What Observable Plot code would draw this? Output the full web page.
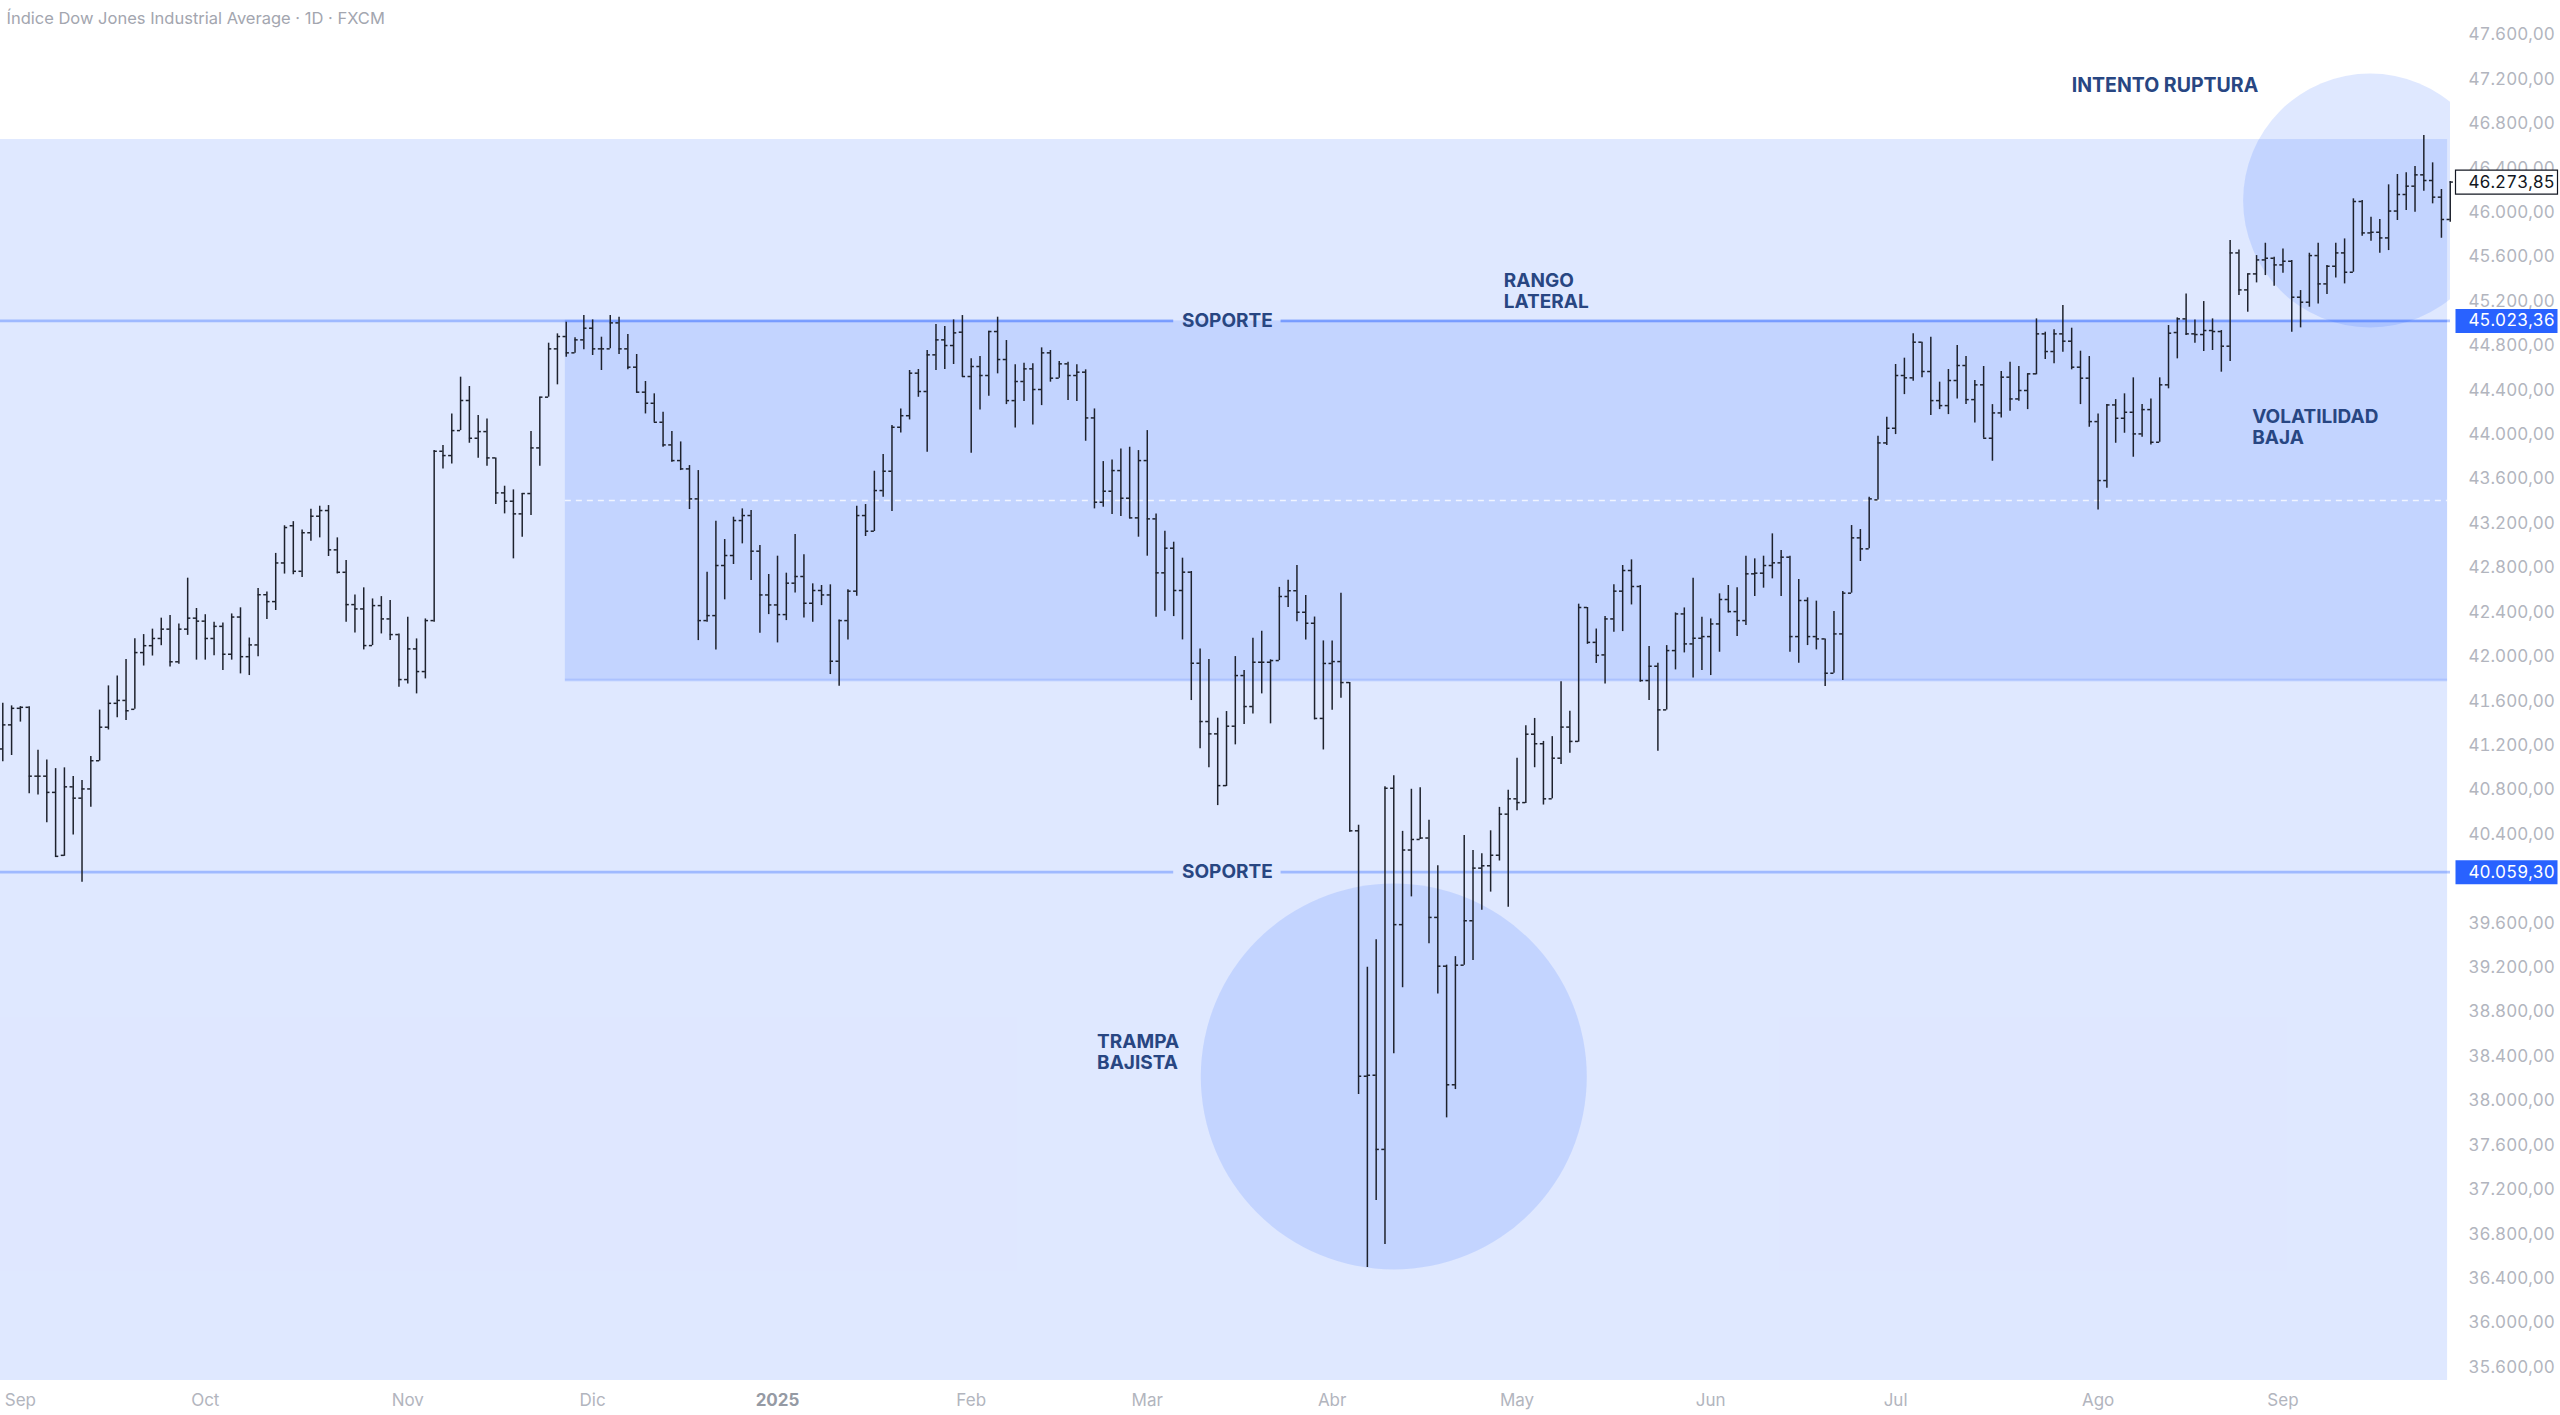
<!DOCTYPE html>
<html><head><meta charset="utf-8">
<script src="https://cdn.jsdelivr.net/npm/d3@7"></script>
<script src="https://cdn.jsdelivr.net/npm/@observablehq/plot@0.6"></script>
<style>html,body{margin:0;padding:0;background:#fff;} #chart svg{display:block;}</style>
</head><body><div id="chart"></div><script>
// Daily OHLC bars (bar index 1..279, late Aug 2024 -> late Sep 2025)
const opens = [
41169,41386,41535,41544,40924,40924,40778,40211,40828,40726,
40809,41063,41365,41580,41606,41526,42037,42099,42164,42248,
41954,42248,42347,42320,42164,42273,42022,42357,42000,42106,
42558,42496,42844,43179,42769,43116,43265,
43316,42962,42760,42469,42430,42100,42460,42340,42199,41794,
42070,41866,42325,43850,43811,44036,44307,43967,44027,43790,
43475,43400,43286,43469,43880,44337,44772,44883,44736,44853,
44958,44772,44772,45006,44772,44607,
44382,44282,44111,43907,43766,43691,43421,42325,42370,42821,
42911,43226,43271,42950,42556,42466,42379,42662,42722,42481,
42596,42556,41959,42325,42590,43271,43130,43496,43670,44066,
44170,44553,44388,44718,44853,44802,
44922,44523,44613,44532,44928,44676,44306,44478,44592,44406,
44736,44508,44637,44532,44562,44150,43391,43490,43676,43427,
43250,43766,43241,42755,42977,42596,42761,41941,41416,41305,
40839,41374,41830,41551,41950,41950,
41965,42542,42594,42400,42301,41444,41939,41956,41767,40432,
38222,38231,37563,40815,39587,40259,40354,40367,39652,39213,
38145,39222,39622,40096,40117,40212,40582,40720,40686,41302,
41216,40720,41086,41366,41237,42443,42129,
42016,42340,42590,42776,42632,41785,41914,41521,42055,42385,
42115,42166,42181,42295,42515,42406,42325,42746,42752,42821,
42845,42896,42181,42506,42181,42160,41851,42205,42572,43070,
42971,43412,43925,44057,44532,44511,44832,44568,44306,44261,
44487,44622,44315,44448,43967,44195,44517,44321,44397,44547,
44907,44748,44907,44841,44607,44508,44117,43586,44267,44147,
44201,44006,44225,43931,44448,
44919,45042,44907,44901,44937,44928,44796,45636,45303,45447,
45573,45588,45528,45561,45237,45192,45612,45357,45516,45636,
45462,46099,45816,45822,45771,46013,46162,46237,46339,46288,46138,45937
];
const highs = [
41581,41557,41550,41550,41157,41070,40992,40999,40921,40884,
41101,41519,41737,41826,41975,42161,42199,42248,42347,42372,
42295,42707,42434,42378,42310,42304,42385,42440,42168,42614,
42583,42930,43179,43216,43141,43327,43355,
43361,43070,42866,42556,42620,42520,42541,42505,42205,42355,
42160,42340,43856,43901,44186,44517,44433,44171,44141,43790,
43535,43502,43469,44027,44337,44823,44907,45012,44871,45072,
45033,44877,45072,45057,44901,44721,
44478,44367,44201,44027,43934,43721,43676,42761,43220,43055,
43256,43331,43316,43001,42740,42905,42752,43100,42917,42656,
42641,42647,42331,42602,43355,43370,43670,43820,44081,44231,
44577,44586,44757,44991,44973,45033,
45072,44682,44703,44931,45057,44847,44628,44643,44637,44781,
44757,44658,44652,44628,44583,44231,43757,43772,43871,43886,
43856,44036,43286,43130,43031,42887,42767,42070,41974,41446,
41506,42001,41875,42166,42229,41971,
42624,42689,42822,42551,42357,42142,42142,42572,41767,40483,
39204,39450,40828,40927,40427,40806,40819,40526,40117,39222,
39299,40389,40255,40225,40432,40643,40798,41086,41379,41444,
41237,41280,41775,41508,42473,42443,42249,
42361,42647,42821,42872,42641,42091,41941,42100,42394,42439,
42707,42355,42340,42566,42641,42620,42905,42881,42905,43106,
42956,42905,42695,42530,42500,42160,42406,42587,43181,43145,
43436,43985,44156,44631,44688,44907,44832,44877,44472,44586,
44802,44703,44487,44613,44270,44568,44652,44613,44547,45042,
44922,44943,45162,44958,44751,44703,44186,44270,44315,44367,
44511,44270,44321,44511,44982,
45051,45267,45033,45198,45042,44937,45747,45663,45447,45612,
45723,45597,45672,45567,45297,45633,45723,45522,45723,45762,
46123,46108,45958,45937,46249,46342,46357,46414,46693,46447,46207,46280
];
const lows = [
41054,41110,41411,40766,40754,40505,40192,40202,40394,39969,
40645,41060,41340,41451,41426,41526,41916,42006,42099,41907,
41932,42192,41969,41969,42009,41876,41969,41845,41830,42000,
42335,42416,42744,42738,42713,43039,43070,
42902,42745,42310,42214,42061,42100,42205,42145,41725,41755,
41665,41800,42310,43691,43736,44036,43922,43787,43715,43370,
43286,42881,43076,43271,43715,44337,44448,44697,44733,44763,
44712,44577,44772,44721,44583,44373,
44186,44111,43886,43751,43676,43325,42145,42310,42061,42512,
42830,43016,42686,42211,42379,42124,42325,42574,42349,42310,
42460,41839,41734,42151,42544,43082,43127,43436,43307,44015,
44132,44336,43841,44577,44586,44631,
44517,43832,44222,44346,44547,44270,44060,44297,44087,44261,
44472,44508,44306,44297,43940,43331,43346,43280,43262,43241,
43076,42905,42355,42409,42361,42151,41605,41170,40999,40659,
40830,41206,41389,41485,41665,41395,
41965,42443,42314,42150,41431,41160,41517,41625,40419,38058,
36499,37102,36706,38425,39019,39837,40354,39415,38963,37847,
38102,39222,39264,39717,39880,40160,39743,40613,40677,41000,
40664,40720,41030,41130,41230,42111,41939,
41755,42220,42226,42466,41770,41605,41149,41520,41881,42034,
41809,41875,41830,42040,42394,42181,42280,42542,42617,42701,
42542,42040,41941,42100,42061,41731,41851,41785,42572,42857,
42971,43412,43901,44000,44360,44481,44511,44171,44225,44180,
44321,44270,44105,43967,43760,44150,44210,44300,44225,44538,
44676,44637,44742,44583,44270,44066,43322,43517,43922,44012,
43796,43976,43907,43931,44412,
44682,44892,44823,44748,44757,44562,44658,45252,45102,45366,
45432,45336,45453,44922,44961,45147,45177,45261,45411,45357,
45462,45786,45741,45633,45657,45928,46018,46003,46192,46078,45768,45913
];
const closes = [
41386,41535,41544,40924,40924,40778,40202,40828,40726,40809,
41063,41365,41580,41606,41513,42037,42099,42164,42248,41954,
42248,42347,42320,42164,42273,42022,42357,42000,42106,42558,
42496,42844,43163,42769,43116,43265,43316,
42962,42760,42469,42430,42100,42460,42340,42199,41794,42070,
41866,42325,43850,43811,44036,44307,43967,44027,43790,43475,
43400,43286,43469,43880,44337,44772,44883,44736,44853,44958,
44772,44772,45006,44772,44607,44382,
44282,44111,43907,43766,43691,43421,42325,42370,42821,42911,
43226,43271,42950,42556,42466,42379,42662,42722,42481,42596,
42556,41959,42325,42590,43271,43130,43496,43670,44066,44170,
44553,44388,44718,44853,44802,44916,
44523,44613,44532,44928,44676,44306,44478,44592,44406,44736,
44508,44637,44532,44562,44150,43391,43490,43676,43427,43250,
43766,43241,42755,42977,42596,42761,41941,41416,41305,40839,
41374,41830,41551,41950,41950,41965,
42542,42594,42400,42301,41444,41939,41956,41767,40432,38222,
38231,37563,40815,39587,40259,40354,40367,39652,39213,38145,
39222,39622,40096,40117,40212,40582,40720,40686,41302,41216,
40720,41086,41366,41237,42443,42129,42012,
42340,42590,42776,42632,41785,41914,41521,42055,42385,42115,
42166,42181,42295,42515,42406,42325,42746,42752,42821,42845,
42896,42181,42506,42181,42160,41851,42205,42572,43070,42971,
43421,43925,44057,44532,44511,44832,44568,44306,44261,44487,
44622,44315,44448,43967,44195,44517,44321,44397,44547,44907,
44748,44907,44841,44607,44508,44117,43586,44267,44147,44201,
44006,44225,43931,44448,44913,
45042,44907,44901,44937,44928,44796,45636,45303,45447,45573,
45588,45528,45561,45237,45192,45612,45357,45516,45636,45462,
46099,45816,45822,45771,46013,46162,46237,46339,46288,46138,45937,46273.85
];

// Month ticks (bar index of first session of each month)
const monthTickIdx = [3, 24, 47, 68, 89, 111, 131, 152, 173, 195, 216, 239, 260];
const monthTickLabels = ["Sep","Oct","Nov","Dic","2025","Feb","Mar","Abr","May","Jun","Jul","Ago","Sep"];
const yearLabels = ["2025"];

// Price axis ticks (40.000 is hidden behind the 40.059,30 tag in the reference)
const yTicks = [35600,36000,36400,36800,37200,37600,38000,38400,38800,39200,39600,
  40400,40800,41200,41600,42000,42400,42800,43200,43600,44000,44400,44800,45200,
  45600,46000,46400,46800,47200,47600];

// Drawn levels / zones (price levels and bar-index anchors)
const supportLevels = [45023.36, 40059.30];
const supportLabel = "SOPORTE";
const supportLabelIdx = 140.1;
const lastPrice = 46273.85;
const rangeZone = {idxStart: 64.9, idxEnd: 278.7, low: 41790, high: 45023.36};
const outerZone = {idxEnd: 278.7, high: 46657};
const trapCircle = {idx: 159.0, price: 38219};
const breakCircle = {idx: 269.9, price: 46108};
const notes = [
  {idx: 246.6, price: 47143, text: "INTENTO RUPTURA"},
  {idx: 171.5, price: 45297, text: "RANGO\nLATERAL"},
  {idx: 256.5, price: 44073, text: "VOLATILIDAD\nBAJA"},
  {idx: 125.3, price: 38440, text: "TRAMPA\nBAJISTA"}
];
const title = "Índice Dow Jones Industrial Average · 1D · FXCM";

// ---------- build tables ----------
const bars = opens.map((o, k) => ({i: k + 1, open: o, high: highs[k], low: lows[k], close: closes[k]}));
const months = monthTickIdx.map((i, k) => ({i, label: monthTickLabels[k]}));
const X0 = 0.74, X1 = 279.03, Y0 = 35482, Y1 = 47909;
const gapHalf = 6.1, tick = 0.36;
const levelSegs = supportLevels.flatMap(v => [
  {v, a: X0, b: supportLabelIdx - gapHalf},
  {v, a: supportLabelIdx + gapHalf, b: X1}
]);
const topBorderSegs = [
  {v: rangeZone.high, a: rangeZone.idxStart, b: supportLabelIdx - gapHalf},
  {v: rangeZone.high, a: supportLabelIdx + gapHalf, b: rangeZone.idxEnd}
];
const loc = d3.formatLocale({decimal: ",", thousands: ".", grouping: [3], currency: ["", ""]});
const fmt = loc.format(",.2f");
const priceTags = [{v: lastPrice, kind: "last"}].concat(supportLevels.map(v => ({v, kind: "level"})));
const boxSymbol = {draw(ctx) { ctx.moveTo(-51, -12); ctx.lineTo(51, -12); ctx.lineTo(51, 12); ctx.lineTo(-51, 12); ctx.closePath(); }};

const BLUE = "#2962ff", NAVY = "#284682", INK = "#1e222d", GREY = "#b2b5be";
const FONT = "Inter, 'Noto Sans', sans-serif";

const chart = Plot.plot({
  width: 2560, height: 1415,
  marginLeft: 0, marginRight: 110, marginTop: 0, marginBottom: 35,
  x: {domain: [X0, X1], axis: null},
  y: {domain: [Y0, Y1], axis: null},
  style: {fontFamily: FONT, background: "#ffffff", overflow: "visible"},
  marks: [
    // zones
    Plot.rect([outerZone], {x1: X0, x2: d => d.idxEnd, y1: Y0, y2: d => d.high, fill: BLUE, fillOpacity: 0.15}),
    Plot.rect([rangeZone], {x1: d => d.idxStart, x2: d => d.idxEnd, y1: d => d.low, y2: d => d.high, fill: BLUE, fillOpacity: 0.15}),
    Plot.dot([trapCircle], {x: "idx", y: "price", r: 193, fill: BLUE, fillOpacity: 0.15, clip: true}),
    Plot.dot([breakCircle], {x: "idx", y: "price", r: 127, fill: BLUE, fillOpacity: 0.15, clip: true}),
    Plot.ruleY([rangeZone], {y: "low", x1: "idxStart", x2: "idxEnd", stroke: BLUE, strokeOpacity: 0.22, strokeWidth: 2.5}),
    Plot.ruleY([(rangeZone.low + rangeZone.high) / 2], {x1: rangeZone.idxStart, x2: rangeZone.idxEnd, stroke: "#ffffff", strokeOpacity: 0.75, strokeWidth: 1.5, strokeDasharray: "6,5"}),
    Plot.ruleY(topBorderSegs, {y: "v", x1: "a", x2: "b", stroke: BLUE, strokeOpacity: 0.22, strokeWidth: 2.5}),
    Plot.ruleY(levelSegs, {y: "v", x1: "a", x2: "b", stroke: BLUE, strokeOpacity: 0.35, strokeWidth: 2.8}),
    // OHLC bars
    Plot.ruleX(bars, {x: "i", y1: "low", y2: "high", stroke: INK, strokeWidth: 1.5}),
    Plot.ruleY(bars, {y: "open", x1: d => d.i - tick, x2: "i", stroke: INK, strokeWidth: 1.5}),
    Plot.ruleY(bars, {y: "close", x1: "i", x2: d => d.i + tick, stroke: INK, strokeWidth: 1.5}),
    // annotations
    Plot.text(supportLevels, {x: supportLabelIdx, y: d => d, text: () => supportLabel, fill: NAVY, fontSize: 19, fontWeight: 700, textAnchor: "middle", lineAnchor: "middle"}),
    Plot.text(notes.slice(0, 1), {x: "idx", y: "price", text: "text", fill: NAVY, fontSize: 19.5, fontWeight: 700, textAnchor: "middle", lineAnchor: "middle"}),
    Plot.text(notes.slice(1), {x: "idx", y: "price", text: "text", fill: NAVY, fontSize: 19, fontWeight: 700, textAnchor: "start", lineAnchor: "middle", lineHeight: 1.1}),
    // axes
    Plot.axisY({anchor: "right", ticks: yTicks, tickSize: 0, tickPadding: 18, tickFormat: fmt, color: GREY, fontSize: 17, fontVariant: "tabular-nums"}),
    Plot.text(months.filter(d => !yearLabels.includes(d.label)), {x: "i", text: "label", frameAnchor: "bottom", dy: 20, fill: GREY, fontSize: 17, lineAnchor: "middle"}),
    Plot.text(months.filter(d => yearLabels.includes(d.label)), {x: "i", text: "label", frameAnchor: "bottom", dy: 20, fill: "#959aa4", fontWeight: 700, fontSize: 17, lineAnchor: "middle"}),
    // price tags
    Plot.dot(priceTags.filter(d => d.kind === "last"), {y: "v", frameAnchor: "right", dx: 56, symbol: boxSymbol, r: 1, fill: "#ffffff", stroke: "#131722", strokeWidth: 1.2}),
    Plot.dot(priceTags.filter(d => d.kind === "level"), {y: "v", frameAnchor: "right", dx: 56, symbol: boxSymbol, r: 1, fill: BLUE, stroke: "none"}),
    Plot.text(priceTags, {y: "v", frameAnchor: "right", dx: 18, text: d => fmt(d.v), fill: d => d.kind === "last" ? "#131722" : "#ffffff", textAnchor: "start", lineAnchor: "middle", fontSize: 17, fontVariant: "tabular-nums"}),
    // title
    Plot.text([title], {frameAnchor: "top-left", dx: 6, dy: 18, textAnchor: "start", lineAnchor: "middle", fill: "#a3a6af", fontSize: 16.5})
  ]
});
document.getElementById("chart").appendChild(chart);
</script></body></html>
